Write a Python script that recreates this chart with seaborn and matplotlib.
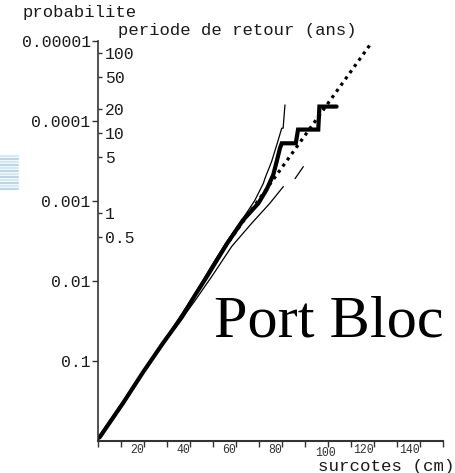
import matplotlib
matplotlib.use("Agg")
import matplotlib.pyplot as plt
import matplotlib.ticker as mticker
from matplotlib.lines import Line2D
import pandas as pd
import seaborn as sns

# ---------------- data ----------------
# empirical surge distribution (thick step curve)
emp_cm = [0, 0.7, 10.8, 19.5, 28.2, 36.4, 42.1, 47.2, 55.9, 63.0, 69.7, 73.3,
          76.2, 77.7, 79.1, 79.9, 86.0, 87.0, 95.8, 96.3, 103.8]
emp_p = [0.92, 0.89, 0.335, 0.138, 0.0596, 0.0282, 0.0151, 0.0089, 0.00347,
         0.00174, 0.00107, 0.00072, 0.00047, 0.00032, 0.00022, 0.00019, 0.00019,
         0.000128, 0.000128, 0.000066, 0.000066]

# upper confidence bound (thin)
up_cm = [0, 20, 42, 50, 56, 62.5, 68.2, 71.9, 72.6, 75.5, 77.7, 79.9, 80.5, 81.3]
up_p = [0.93, 0.135, 0.0145, 0.006, 0.0032, 0.00174, 0.00098, 0.0006, 0.00052,
        0.00032, 0.0002, 0.000123, 0.000123, 0.000063]

# lower confidence bound (thin, two pieces)
lo_cm = [0, 20, 42, 50, 58.1, 66.8, 74.7, 80.6]
lo_p = [0.89, 0.132, 0.0178, 0.0083, 0.0037, 0.0019, 0.00107, 0.00066]
lo2_cm = [85.7, 89.3]
lo2_p = [0.000525, 0.000372]

# fitted law (dotted)
fit_cm = [55, 119]
fit_p = [0.0038, 0.0000105]

# axis ticks
prob_ticks = [0.00001, 0.0001, 0.001, 0.01, 0.1]
prob_labels = ["0.00001", "0.0001", "0.001", "0.01", "0.1"]
rp_ticks = [100, 50, 20, 10, 5, 1, 0.5]
rp_labels = ["100", "50", "20", "10", "5", "1", "0.5"]
x_ticks = list(range(0, 151, 10))
x_labels = [20, 40, 60, 80, 100, 120, 140]
events_per_year = 705

# ---------------- figure ----------------
sns.set_theme(style="white")
plt.rcParams["font.family"] = ["Liberation Mono", "DejaVu Sans Mono"]
txt = "#1a1a1a"

W, H = 456, 473
fig = plt.figure(figsize=(W / 100, H / 100), dpi=100)
x0, x1, ytop, ybot = 98.3, 442.7, 41.0, 441.0
ax = fig.add_axes([x0 / W, 1 - ybot / H, (x1 - x0) / W, (ybot - ytop) / H])
ax.set_yscale("log")

def line(xs, ps, **kw):
    df = pd.DataFrame({"x": xs, "p": ps})
    sns.lineplot(data=df, x="x", y="p", ax=ax, sort=False, estimator=None,
                 color="black", **kw)

line(up_cm, up_p, linewidth=0.9)
line(lo_cm, lo_p, linewidth=0.9)
line(lo2_cm, lo2_p, linewidth=0.9)
line(emp_cm, emp_p, linewidth=3.0, solid_joinstyle="miter")
line(fit_cm, fit_p, linewidth=2.3, linestyle=(0, (1, 1.4)))

ax.set_xlim(0, 150)
ax.set_ylim(1, 1e-5)
ax.set_xlabel("")
ax.set_ylabel("")

for s in ["top", "right"]:
    ax.spines[s].set_visible(False)
ax.spines["left"].set_color("#333333")
ax.spines["left"].set_linewidth(1.2)
ax.spines["bottom"].set_color("#333333")
ax.spines["bottom"].set_linewidth(1.5)

ax.yaxis.set_major_locator(mticker.FixedLocator(prob_ticks))
ax.yaxis.set_major_formatter(mticker.FixedFormatter(prob_labels))
ax.yaxis.set_minor_locator(mticker.NullLocator())
ax.tick_params(axis="y", which="major", left=True, direction="out", length=4,
               width=1, color="#333333", pad=1.5, labelsize=11.8, labelcolor=txt)

ax.xaxis.set_major_locator(mticker.FixedLocator(x_ticks))
ax.xaxis.set_major_formatter(mticker.NullFormatter())
ax.tick_params(axis="x", which="major", bottom=True, direction="out", length=4,
               width=1, color="#333333")
for v in x_labels:
    dy = -4.5 if v == 100 else -2.0
    dx = -1.5 if v == 100 else 0
    ax.annotate(str(v), xy=(v, 0), xycoords=("data", "axes fraction"),
                xytext=(dx, dy), textcoords="offset points",
                ha="right" if v != 100 else "center", va="top",
                fontsize=8.3, color="#333333")

# return-period axis drawn on the same left line, ticks inside
ax2 = ax.twinx()
ax2.set_yscale("log")
ax2.set_ylim(1 / events_per_year, 1e5 / events_per_year)
ax2.spines["right"].set_position(("axes", 0))
for s in ["top", "right", "left", "bottom"]:
    ax2.spines[s].set_visible(False)
ax2.yaxis.set_major_locator(mticker.FixedLocator(rp_ticks))
ax2.yaxis.set_major_formatter(mticker.FixedFormatter(rp_labels))
ax2.yaxis.set_minor_locator(mticker.NullLocator())
ax2.tick_params(axis="y", which="major", right=True, left=False, direction="out",
                length=3, width=1, color="#333333", pad=2, labelsize=11.8,
                labelcolor=txt)
ax2.grid(False)
ax.grid(False)

# texts
fig.text(23 / W, 1 - 13 / H, "probabilite", ha="left", va="center",
         fontsize=12.4, color=txt)
fig.text(118 / W, 1 - 30 / H, "periode de retour (ans)", ha="left", va="center",
         fontsize=12.4, color=txt)
fig.text(455 / W, 1 - 466 / H, "surcotes (cm)", ha="right", va="center",
         fontsize=12.6, color=txt)
fig.text(214 / W, 1 - 336 / H, "Port Bloc", ha="left", va="baseline",
         fontsize=43.5, family=["Liberation Serif", "DejaVu Serif"], color="black")

# faint blue stripes of the slide background at left edge
for i, yy in enumerate(range(156, 192, 3)):
    fig.add_artist(Line2D([0, 18 / W], [1 - yy / H] * 2, transform=fig.transFigure,
                          color="#b9d7e8" if i % 2 else "#d6e8f2", linewidth=1.6))

fig.savefig("out.png", dpi=100)
